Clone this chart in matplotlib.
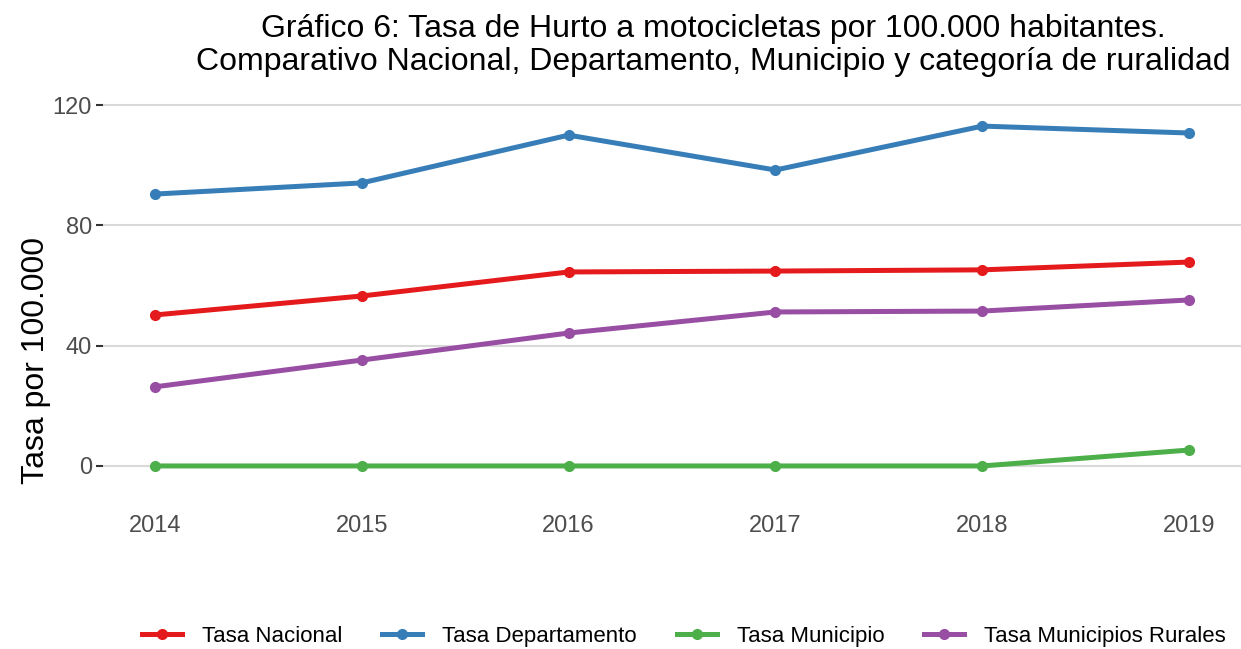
import matplotlib.pyplot as plt
from matplotlib.lines import Line2D

plt.rcParams["font.family"] = ["Liberation Sans", "DejaVu Sans"]

# =========================
# Data
# =========================
years = [2014, 2015, 2016, 2017, 2018, 2019]
tasa_nacional = [50.2, 56.5, 64.5, 64.8, 65.2, 67.8]
tasa_departamento = [90.4, 94.1, 110.0, 98.4, 113.0, 110.7]
tasa_municipio = [0, 0, 0, 0, 0, 5.3]
tasa_rurales = [26.3, 35.2, 44.2, 51.2, 51.5, 55.2]

series_labels = ["Tasa Nacional", "Tasa Departamento", "Tasa Municipio",
                 "Tasa Municipios Rurales"]
series_values = [tasa_nacional, tasa_departamento, tasa_municipio, tasa_rurales]
colors = ["#E41A1C", "#377EB8", "#4DAF4A", "#984EA3"]

yticks = [0, 40, 80, 120]

# =========================
# Plot
# =========================
fig = plt.figure(figsize=(12.41, 6.49), dpi=100)
ax = fig.add_axes([103 / 1241, 1 - 484 / 649, 1 - 103 / 1241, (484 - 87) / 649])

for vals, c in zip(series_values, colors):
    ax.plot(years, vals, color=c, linewidth=3.6, marker="o", markersize=7,
            solid_capstyle="butt", zorder=3)

ax.set_xlim(2014 - 0.25, 2019 + 0.25)
ax.set_ylim(-6, 126)
ax.set_yticks(yticks)
ax.set_xticks(years)
ax.grid(axis="y", color="#D9D9D9", linewidth=1.5)
ax.set_axisbelow(True)
for s in ax.spines.values():
    s.set_visible(False)
ax.tick_params(axis="y", length=5, width=1.5, color="#333333",
               labelsize=17, labelcolor="#4D4D4D", pad=3)
ax.tick_params(axis="x", length=0, labelsize=17, labelcolor="#4D4D4D", pad=22)

ax.set_ylabel("Tasa por 100.000", fontsize=23)
ax.yaxis.set_label_coords(-0.0455, 0.31)

fig.text(0.575, 0.978,
         "Gráfico 6: Tasa de Hurto a motocicletas por 100.000 habitantes.\n"
         "Comparativo Nacional, Departamento, Municipio y categoría de ruralidad",
         ha="center", va="top", fontsize=23, linespacing=1.1)

handles = [Line2D([0], [0], color=c, linewidth=3.6, marker="o", markersize=7)
           for c in colors]
fig.legend(handles, series_labels, loc="center", bbox_to_anchor=(0.551, 0.02),
           ncol=4, frameon=False, handlelength=1.8, columnspacing=1.8,
           handletextpad=0.9, prop={"size": 16})

fig.savefig("out.png", dpi=100)
